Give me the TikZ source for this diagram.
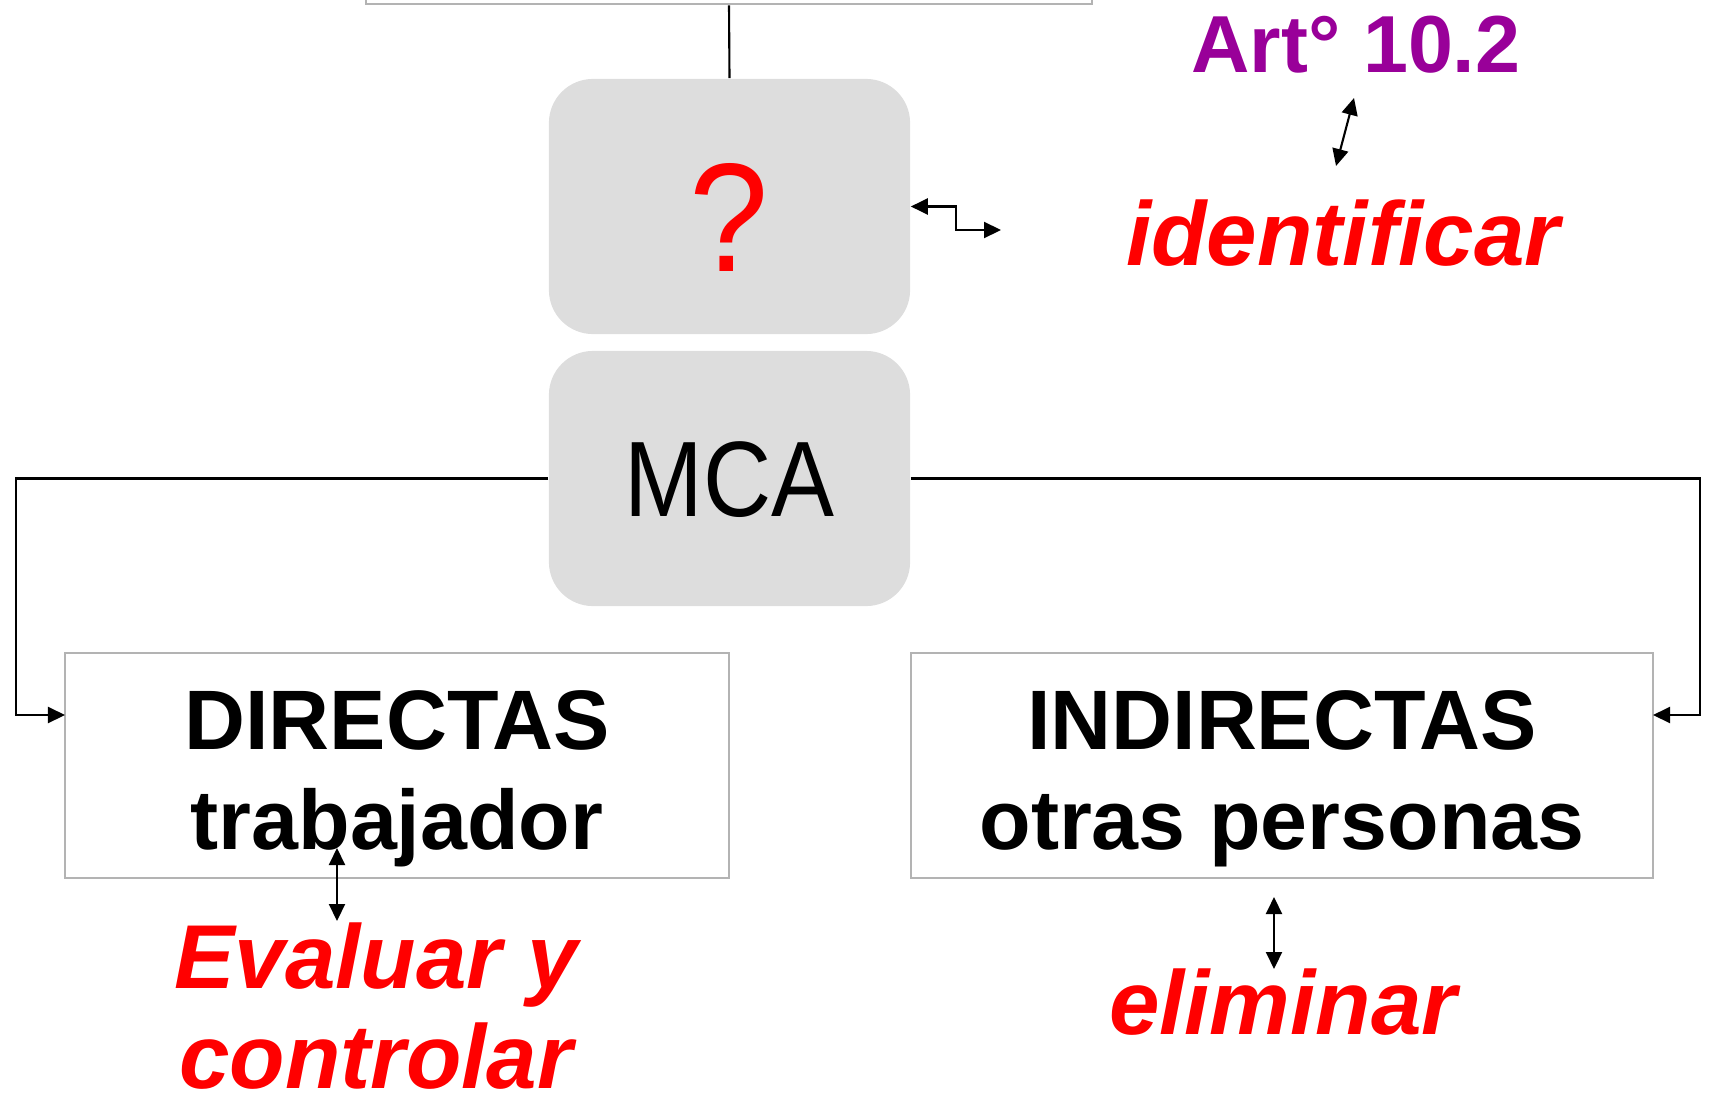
\documentclass[tikz,border=0pt]{standalone}
\usepackage{fontspec}
\setmainfont{Liberation Sans}
\usetikzlibrary{arrows.meta}
\definecolor{boxgray}{HTML}{DDDDDD}
\definecolor{framegray}{HTML}{B3B3B3}
\definecolor{artpurple}{HTML}{990099}
\tikzset{
  roundbox/.style={fill=boxgray, rounded corners=0.44cm, minimum width=3.61cm,
    minimum height=2.55cm, inner sep=0pt},
  groupbox/.style={draw=framegray, line width=0.7pt, minimum height=2.25cm, inner sep=0pt},
  headtext/.style={anchor=base, inner sep=0pt, font=\fontsize{24}{28}\selectfont\bfseries},
  action/.style={anchor=base, inner sep=0pt, text=red,
    font=\fontsize{25.8}{30}\selectfont\bfseries\itshape},
  link/.style={line width=0.6pt},
  twoway/.style={link, {Triangle[length=1.7mm,width=1.6mm]}-{Triangle[length=1.7mm,width=1.6mm]}},
  oneway/.style={link, -{Triangle[length=1.7mm,width=1.6mm]}}
}
\begin{document}
\begin{tikzpicture}[x=0.01cm, y=-0.01cm]
  \useasboundingbox (0,0) rectangle (1715,1100);
  \clip (0,0) rectangle (1715,1100);
  % boxes
  \node[groupbox, minimum width=7.26cm, minimum height=1cm] (top) at (729,-46) {};
  \node[roundbox] (q) at (729.5,206.5) {};
  \node[roundbox] (mca) at (729.5,478.5) {};
  \node[groupbox, minimum width=6.64cm] (dir) at (397,765.5) {};
  \node[groupbox, minimum width=7.42cm] (indir) at (1282,765.5) {};
  % texts
  \node[anchor=base, inner sep=0pt, text=red, font=\fontsize{44}{50}\selectfont] (qmark) at (729,271) {\scalebox{0.92}[1]{?}};
  \node[anchor=base, inner sep=0pt, font=\fontsize{30.5}{34}\selectfont] (mcatext) at (729.5,516) {\scalebox{0.88}[1]{MCA}};
  \node[headtext] (dirhead) at (397,749) {DIRECTAS};
  \node[headtext] (dirsub) at (397,849) {trabajador};
  \node[headtext] (indirhead) at (1282,749) {INDIRECTAS};
  \node[headtext] (indirsub) at (1282,849) {otras personas};
  \node[anchor=base, inner sep=0pt, text=artpurple, font=\fontsize{23}{27}\selectfont\bfseries] (art) at (1356,72) {Art° 10.2};
  \node[action] (ident) at (1343,265) {identificar};
  \node[action] (eval) at (376,988) {Evaluar y};
  \node[action] (ctrl) at (376,1088) {controlar};
  \node[action] (elim) at (1283,1034) {eliminar};
  % free ends
  \coordinate (artend) at (1354,98);
  \coordinate (identend) at (1336,166);
  \coordinate (qend) at (1001,230);
  \coordinate (dirin) at (65,715);
  \coordinate (indirin) at (1653,715);
  \coordinate (dirup) at (337,848);
  \coordinate (dirdown) at (337,921);
  \coordinate (elimup) at (1274,897);
  \coordinate (elimdown) at (1274,969);
  % connectors
  \draw[link] (top.south) -- (q.north);
  \draw[oneway] (mca.west) -- (16,478.5) |- (dirin);
  \draw[oneway] (mca.east) -- (1700,478.5) |- (indirin);
  \draw[twoway] (q.east) -- ++(45,0) |- (qend);
  \draw[twoway] (artend) -- (identend);
  \draw[twoway] (dirup) -- (dirdown);
  \draw[twoway] (elimup) -- (elimdown);
\end{tikzpicture}
\end{document}
